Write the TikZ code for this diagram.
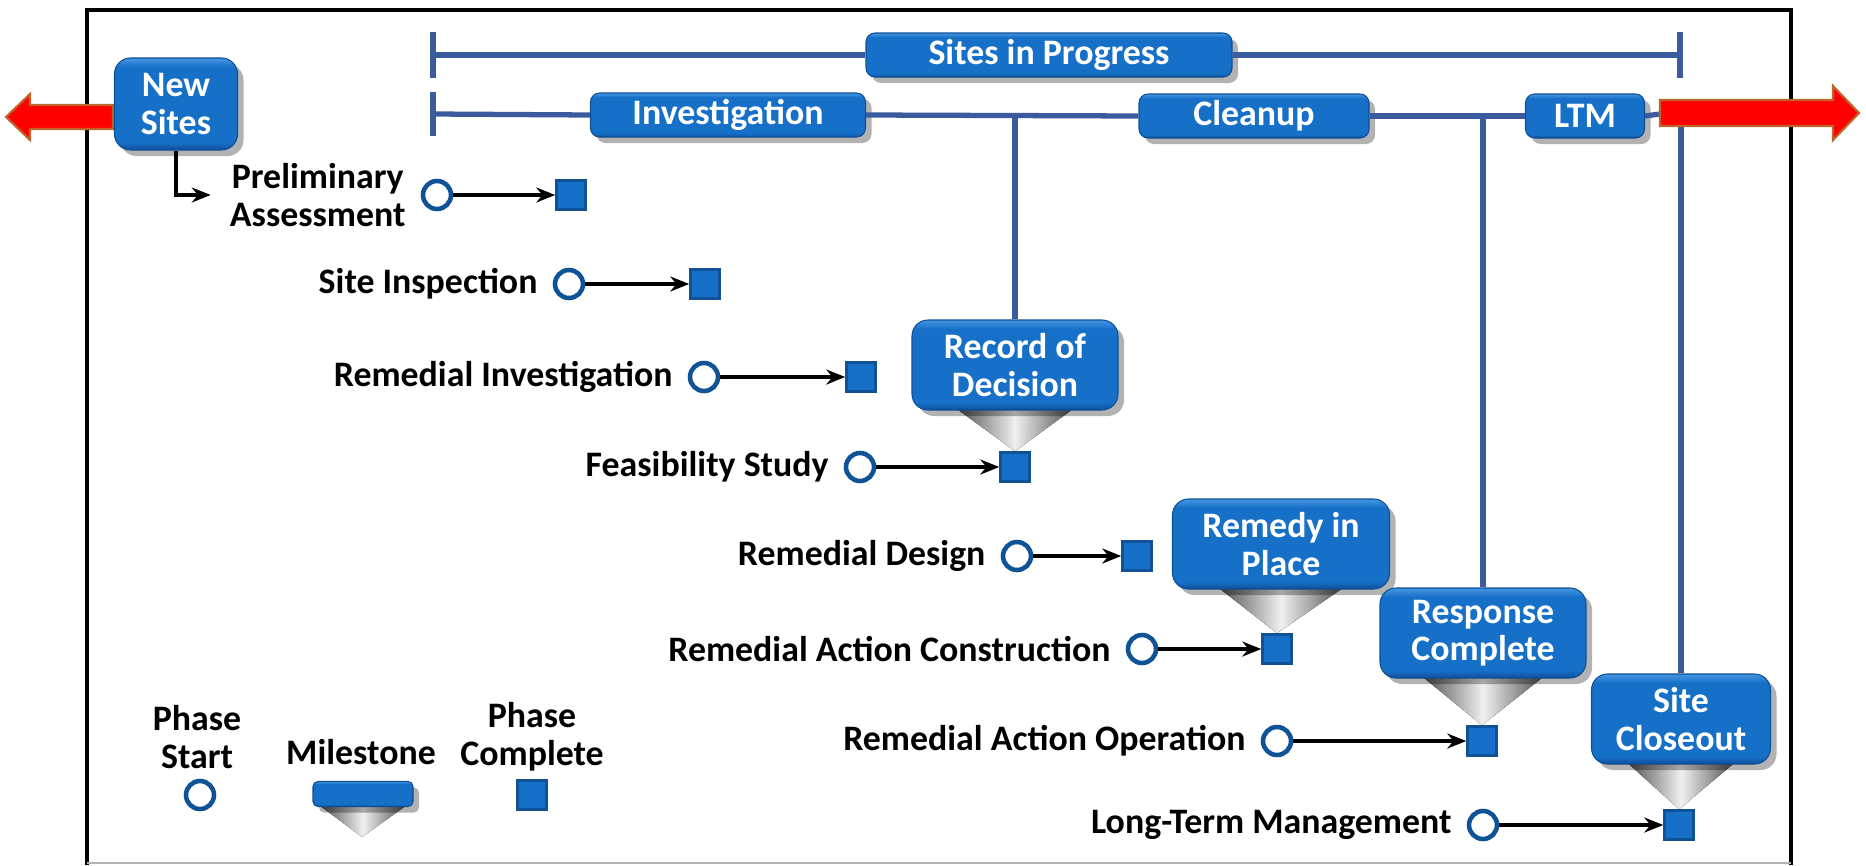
\documentclass[tikz,border=0pt]{standalone}
\usepackage{fontspec}
\setmainfont{Carlito}
\usetikzlibrary{positioning}
\usetikzlibrary{shadows,backgrounds,calc,arrows.meta}
\tikzset{>={Stealth[length=1.9mm,width=1.5mm]}}
\definecolor{barblue}{RGB}{58,92,158}
\definecolor{boxblue}{RGB}{22,112,200}
\definecolor{boxlight}{RGB}{70,150,225}
\definecolor{boxdark}{RGB}{14,78,150}
\definecolor{ringblue}{RGB}{16,82,150}
\definecolor{rimbrown}{RGB}{190,100,40}
\pgfdeclareverticalshading{bevelblue}{100bp}{color(0bp)=(boxdark); color(25bp)=(boxdark); color(29bp)=(boxblue); color(70bp)=(boxblue); color(75bp)=(boxlight); color(100bp)=(boxlight)}
\tikzset{
	% blue boxes
	bevelbox/.style={shading=bevelblue, draw=boxdark, line width=0.3pt, text=white,
		font=\fontsize{10.2}{10.7}\selectfont\bfseries, align=center, inner sep=0pt,
		drop shadow={shadow xshift=0.6mm, shadow yshift=-0.6mm, fill=black, opacity=0.3}},
	barbox/.style={bevelbox, minimum height=4.4mm, rounded corners=0.9mm},
	milebox/.style={bevelbox, minimum height=9mm, rounded corners=1.6mm},
	% lines
	barline/.style={barblue, line width=1.5pt},
	pointer/.style={left color=gray!60!black, right color=gray!60!black, middle color=gray!12},
	% phase marks
	startdot/.style={circle, draw=ringblue, fill=white, line width=1.3pt, minimum size=2.8mm, inner sep=0pt},
	donebox/.style={rectangle, draw=ringblue, fill=boxblue, line width=0.7pt, minimum size=2.9mm, inner sep=0pt},
	phaselabel/.style={font=\fontsize{10.2}{10.7}\selectfont\bfseries, align=center, inner sep=1pt},
	redarrow/.style={fill=red, draw=rimbrown, line width=0.6pt},
}
\begin{document}
\begin{tikzpicture}[x=0.1mm,y=-0.1mm]
\useasboundingbox (0,0) rectangle (1866,865);
% frame
\draw[line width=1.4pt] (87,865) -- (87,10) -- (1791,10) -- (1791,865);
\draw[gray!60] (87,863) -- (1791,863);
% red arrows
\draw[redarrow] (113,105) -- (30,105) -- (30,94) -- (6,117) -- (30,140) -- (30,129) -- (113,129) -- cycle;
% the boxes
\node[bevelbox, minimum width=12.3mm, minimum height=9.2mm, rounded corners=1.6mm] (newsites) at (176,104) {New\\Sites};
\node[barbox, minimum width=36.6mm] (progress) at (1049,55) {Sites in Progress};
\node[barbox, minimum width=27.5mm] (invest) at (728,115) {Investigation};
\node[barbox, minimum width=23mm] (cleanup) at (1254,116) {Cleanup};
\node[barbox, minimum width=11.9mm] (ltm) at (1585,116) {LTM};
\node[milebox, minimum width=20.6mm] (rod) at (1015,365) {Record of\\Decision};
\node[milebox, minimum width=21.7mm] (rip) at (1281,544) {Remedy in\\Place};
\node[milebox, minimum width=20.6mm] (respc) at (1483,633) {Response\\Complete};
\node[milebox, minimum width=17.9mm] (closeout) at (1681,719) {Site\\Closeout};
% the bars
\coordinate (topleft) at (433,55);
\coordinate (topright) at (1680,55);
\coordinate (midleft) at (433,114);
\coordinate (redtail) at (1660,114);
\draw[barline] ([yshift=2.3mm]topleft) -- ([yshift=-2.3mm]topleft);
\draw[barline] ([yshift=2.3mm]topright) -- ([yshift=-2.3mm]topright);
\draw[barline] ([yshift=2.2mm]midleft) -- ([yshift=-2.2mm]midleft);
\draw[barline] (topleft) -- (progress.west);
\draw[barline] (progress.east) -- (topright);
\draw[barline] (midleft) -- (invest.west);
\draw[barline] (invest.east) -- (cleanup.west);
\draw[barline] (cleanup.east) -- (ltm.west);
\draw[barline] (ltm.east) -- (redtail);
\draw[barline] (rod.north |- midleft) -- (rod.north);
\draw[barline] (respc.north |- midleft) -- (respc.north);
\draw[barline] (closeout.north |- midleft) -- (closeout.north);
\draw[redarrow] (1660,100) -- (1833,100) -- (1833,86) -- (1859,113) -- (1833,140) -- (1833,126) -- (1660,126) -- cycle;
% the phases
\foreach \i/\xs/\xe/\y/\lab in {1/437/571/195/{Preliminary\\Assessment},
	2/569/705/284/{Site Inspection},
	3/704/861/377/{Remedial Investigation},
	4/860/1015/467/{Feasibility Study},
	5/1017/1137/556/{Remedial Design},
	6/1142/1277/649/{Remedial Action Construction},
	7/1277/1482/741/{Remedial Action Operation},
	8/1483/1679/825/{Long-Term Management}}
{
	\node[startdot] (st\i) at (\xs,\y) {};
	\node[donebox] (ok\i) at (\xe,\y) {};
	\node[phaselabel, left=1.1mm of st\i] (lab\i) {\lab};
	\draw[->, line width=0.9pt] (st\i) -- (ok\i);
}
\draw[->, line width=1.1pt] (newsites.south) |- ([xshift=-1.5mm]lab1.west |- st1);
% legend
\node[startdot] (keystart) at (200,795) {};
\node[phaselabel] (keystartlab) at (197,737) {Phase\\Start};
\node[bevelbox, minimum width=10mm, minimum height=2.5mm, rounded corners=0.5mm] (keymile) at (363,794) {};
\node[phaselabel] (keymilelab) at (361,752) {Milestone};
\node[donebox] (keydone) at (532,795) {};
\node[phaselabel] (keydonelab) at (532,737) {Phase\\Complete};
% pointers under the milestones
\begin{pgfonlayer}{background}
\fill[pointer] ($(rod.south)+(-60,-3)$) -- ($(rod.south)+(60,-3)$) -- (ok4.north) -- cycle;
\fill[pointer] ($(rip.south)+(-64,-3)$) -- ($(rip.south)+(64,-3)$) -- (ok6.north) -- cycle;
\fill[pointer] ($(respc.south)+(-62,-3)$) -- ($(respc.south)+(62,-3)$) -- (ok7.north) -- cycle;
\fill[pointer] ($(closeout.south)+(-55,-3)$) -- ($(closeout.south)+(55,-3)$) -- (ok8.north) -- cycle;
\fill[pointer] ($(keymile.south)+(-44,-2)$) -- ($(keymile.south)+(44,-2)$) -- (362,837) -- cycle;
\end{pgfonlayer}
\end{tikzpicture}
\end{document}
